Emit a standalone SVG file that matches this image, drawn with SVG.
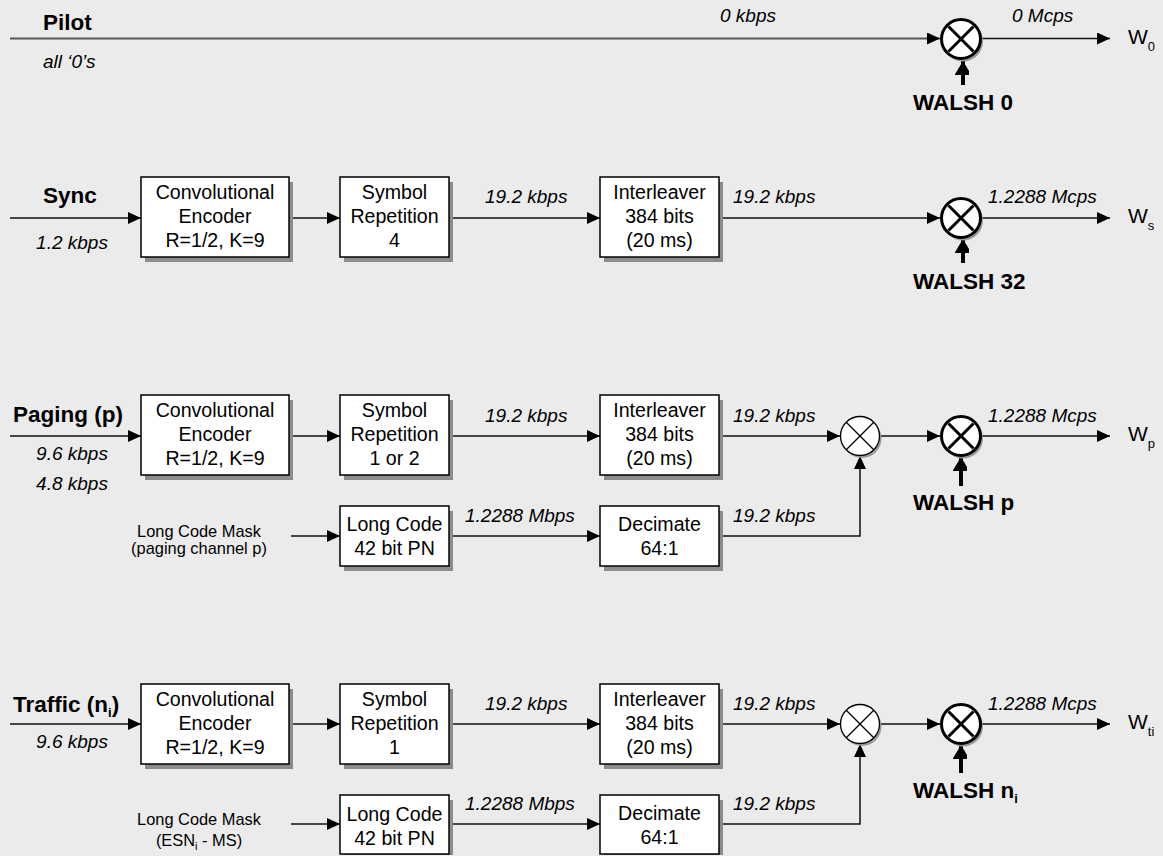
<svg xmlns="http://www.w3.org/2000/svg" width="1163" height="856" viewBox="0 0 1163 856">
<style>
  text { font-family: "Liberation Sans", Arial, sans-serif; fill: #000; }
  .lbl { font-size: 22.5px; font-weight: bold; }
  .rate { font-size: 19px; font-style: italic; }
  .bt { font-size: 19.6px; text-anchor: middle; }
  .mask { font-size: 16.4px; text-anchor: middle; }
  .w { font-size: 21px; }
  .sub { font-size: 13px; }
  .box { fill: #fff; stroke: #000; stroke-width: 1.5; }
  .shd { fill: #8c8c8c; }
  .ln { fill: none; stroke: #111; stroke-width: 1.5; }
  .bigc { fill: #fff; stroke: #000; stroke-width: 3; }
  .bigx { stroke: #000; stroke-width: 3; }
  .smc { fill: #fff; stroke: #000; stroke-width: 1.3; }
  .smx { stroke: #000; stroke-width: 1.2; }
  .csh { fill: #9a9a9a; }
  .walsh { stroke: #000; stroke-width: 4; }
</style>
<defs>
  <marker id="ah" markerUnits="userSpaceOnUse" markerWidth="13" markerHeight="12" refX="13" refY="6" orient="auto">
    <path d="M0,0 L13,6 L0,12 z" fill="#000"/>
  </marker>
  <marker id="wh" markerUnits="userSpaceOnUse" markerWidth="17" markerHeight="14" refX="14" refY="8.5" orient="auto">
    <path d="M0,0 L14,8.5 L0,17 z" fill="#000"/>
  </marker>
  <g id="bigmul">
    <circle class="csh" cx="2" cy="2.5" r="20"/>
    <circle class="bigc" cx="0" cy="0" r="19.5"/>
    <line class="bigx" x1="-12.5" y1="-12.5" x2="12.5" y2="12.5"/>
    <line class="bigx" x1="-12.5" y1="12.5" x2="12.5" y2="-12.5"/>
  </g>
  <g id="smmul">
    <circle class="csh" cx="2" cy="2.5" r="19.5"/>
    <circle class="smc" cx="0" cy="0" r="19.5"/>
    <line class="smx" x1="-13.5" y1="-13.5" x2="13.5" y2="13.5"/>
    <line class="smx" x1="-13.5" y1="13.5" x2="13.5" y2="-13.5"/>
  </g>
</defs>
<rect x="0" y="0" width="1163" height="856" fill="#ebebeb"/>

<!-- connectors -->
<g id="connectors">
  <!-- pilot -->
  <line x1="10" y1="38.5" x2="940" y2="38.5" stroke="#555" stroke-width="2" marker-end="url(#ah)"/>
  <line class="ln" x1="982" y1="38.5" x2="1110" y2="38.5" marker-end="url(#ah)"/>
  <line class="walsh" x1="963" y1="85" x2="963" y2="61" marker-end="url(#wh)"/>
  <!-- sync -->
  <line class="ln" x1="10" y1="218" x2="141" y2="218" marker-end="url(#ah)"/>
  <line class="ln" x1="290" y1="218" x2="340" y2="218" marker-end="url(#ah)"/>
  <line class="ln" x1="450" y1="218" x2="600" y2="218" marker-end="url(#ah)"/>
  <line class="ln" x1="720" y1="218" x2="940" y2="218" marker-end="url(#ah)"/>
  <line class="ln" x1="982" y1="218" x2="1110" y2="218" marker-end="url(#ah)"/>
  <line class="walsh" x1="963" y1="263" x2="963" y2="239" marker-end="url(#wh)"/>
  <!-- paging -->
  <line class="ln" x1="10" y1="436" x2="141" y2="436" marker-end="url(#ah)"/>
  <line class="ln" x1="290" y1="436" x2="340" y2="436" marker-end="url(#ah)"/>
  <line class="ln" x1="450" y1="436" x2="600" y2="436" marker-end="url(#ah)"/>
  <line class="ln" x1="720" y1="436" x2="840" y2="436" marker-end="url(#ah)"/>
  <line class="ln" x1="880" y1="436" x2="940" y2="436" marker-end="url(#ah)"/>
  <line class="ln" x1="982" y1="436" x2="1110" y2="436" marker-end="url(#ah)"/>
  <line class="ln" x1="291" y1="536" x2="340" y2="536" marker-end="url(#ah)"/>
  <line class="ln" x1="450" y1="536" x2="600" y2="536" marker-end="url(#ah)"/>
  <path class="ln" d="M720,536 H860 V456" marker-end="url(#ah)"/>
  <line class="walsh" x1="961" y1="486" x2="961" y2="457" marker-end="url(#wh)"/>
  <!-- traffic -->
  <line class="ln" x1="10" y1="724" x2="141" y2="724" marker-end="url(#ah)"/>
  <line class="ln" x1="290" y1="724" x2="340" y2="724" marker-end="url(#ah)"/>
  <line class="ln" x1="450" y1="724" x2="600" y2="724" marker-end="url(#ah)"/>
  <line class="ln" x1="720" y1="724" x2="840" y2="724" marker-end="url(#ah)"/>
  <line class="ln" x1="880" y1="724" x2="940" y2="724" marker-end="url(#ah)"/>
  <line class="ln" x1="982" y1="724" x2="1110" y2="724" marker-end="url(#ah)"/>
  <line class="ln" x1="291" y1="824" x2="340" y2="824" marker-end="url(#ah)"/>
  <line class="ln" x1="450" y1="824" x2="600" y2="824" marker-end="url(#ah)"/>
  <path class="ln" d="M720,824 H860 V744" marker-end="url(#ah)"/>
  <line class="walsh" x1="961" y1="773" x2="961" y2="745" marker-end="url(#wh)"/>
</g>

<!-- Pilot row -->
<g id="pilot-label">
  <text class="lbl" x="43" y="30">Pilot</text>
  <text class="rate" x="43" y="68">all ‘0’s</text>
  <text class="rate" x="720" y="22">0 kbps</text>
  <text class="rate" x="1012" y="22">0 Mcps</text>
</g>
<g id="pilot-mul"><use href="#bigmul" x="961" y="39"/></g>
<g id="pilot-walsh"><text class="lbl" x="913" y="110">WALSH 0</text></g>
<g id="pilot-out"><text class="w" x="1128" y="44">W<tspan class="sub" dy="7">0</tspan></text></g>

<!-- Sync row -->
<g id="sync-label">
  <text class="lbl" x="43" y="203">Sync</text>
  <text class="rate" x="72" y="249" text-anchor="middle">1.2 kbps</text>
  <text class="rate" x="485" y="203">19.2 kbps</text>
  <text class="rate" x="733" y="203">19.2 kbps</text>
  <text class="rate" x="988" y="203">1.2288 Mcps</text>
</g>
<g id="sync-conv">
  <rect class="shd" x="145" y="182" width="148" height="80"/>
  <rect class="box" x="141" y="177" width="148" height="80"/>
  <text class="bt" x="215" y="199">Convolutional</text>
  <text class="bt" x="215" y="223">Encoder</text>
  <text class="bt" x="215" y="247">R=1/2, K=9</text>
</g>
<g id="sync-rep">
  <rect class="shd" x="344" y="182" width="109" height="80"/>
  <rect class="box" x="340" y="177" width="109" height="80"/>
  <text class="bt" x="394.5" y="199">Symbol</text>
  <text class="bt" x="394.5" y="223">Repetition</text>
  <text class="bt" x="394.5" y="247">4</text>
</g>
<g id="sync-int">
  <rect class="shd" x="604" y="182" width="119" height="80"/>
  <rect class="box" x="600" y="177" width="119" height="80"/>
  <text class="bt" x="659.5" y="199">Interleaver</text>
  <text class="bt" x="659.5" y="223">384 bits</text>
  <text class="bt" x="659.5" y="247">(20 ms)</text>
</g>
<g id="sync-mul"><use href="#bigmul" x="961" y="218"/></g>
<g id="sync-walsh"><text class="lbl" x="913" y="289">WALSH 32</text></g>
<g id="sync-out"><text class="w" x="1128" y="223">W<tspan class="sub" dy="7">s</tspan></text></g>

<!-- Paging row -->
<g id="paging-label">
  <text class="lbl" x="13" y="422">Paging (p)</text>
  <text class="rate" x="72" y="460" text-anchor="middle">9.6 kbps</text>
  <text class="rate" x="72" y="490" text-anchor="middle">4.8 kbps</text>
  <text class="rate" x="485" y="422">19.2 kbps</text>
  <text class="rate" x="733" y="422">19.2 kbps</text>
  <text class="rate" x="988" y="422">1.2288 Mcps</text>
  <text class="rate" x="465" y="522">1.2288 Mbps</text>
  <text class="rate" x="733" y="522">19.2 kbps</text>
</g>
<g id="paging-mask">
  <text class="mask" x="199" y="537">Long Code Mask</text>
  <text class="mask" x="199" y="554">(paging channel p)</text>
</g>
<g id="paging-conv">
  <rect class="shd" x="145" y="400" width="148" height="80"/>
  <rect class="box" x="141" y="395" width="148" height="80"/>
  <text class="bt" x="215" y="417">Convolutional</text>
  <text class="bt" x="215" y="441">Encoder</text>
  <text class="bt" x="215" y="465">R=1/2, K=9</text>
</g>
<g id="paging-rep">
  <rect class="shd" x="344" y="400" width="109" height="80"/>
  <rect class="box" x="340" y="395" width="109" height="80"/>
  <text class="bt" x="394.5" y="417">Symbol</text>
  <text class="bt" x="394.5" y="441">Repetition</text>
  <text class="bt" x="394.5" y="465">1 or 2</text>
</g>
<g id="paging-int">
  <rect class="shd" x="604" y="400" width="119" height="80"/>
  <rect class="box" x="600" y="395" width="119" height="80"/>
  <text class="bt" x="659.5" y="417">Interleaver</text>
  <text class="bt" x="659.5" y="441">384 bits</text>
  <text class="bt" x="659.5" y="465">(20 ms)</text>
</g>
<g id="paging-lc">
  <rect class="shd" x="344" y="511" width="109" height="60"/>
  <rect class="box" x="340" y="506" width="109" height="60"/>
  <text class="bt" x="394.5" y="531">Long Code</text>
  <text class="bt" x="394.5" y="555">42 bit PN</text>
</g>
<g id="paging-dec">
  <rect class="shd" x="604" y="511" width="119" height="60"/>
  <rect class="box" x="600" y="506" width="119" height="60"/>
  <text class="bt" x="659.5" y="531">Decimate</text>
  <text class="bt" x="659.5" y="555">64:1</text>
</g>
<g id="paging-smul"><use href="#smmul" x="860" y="436"/></g>
<g id="paging-mul"><use href="#bigmul" x="961" y="436"/></g>
<g id="paging-walsh"><text class="lbl" x="913" y="510">WALSH p</text></g>
<g id="paging-out"><text class="w" x="1128" y="441">W<tspan class="sub" dy="7">p</tspan></text></g>

<!-- Traffic row -->
<g id="traffic-label">
  <text class="lbl" x="13" y="712">Traffic (n<tspan class="sub" dy="5">i</tspan><tspan dy="-5">)</tspan></text>
  <text class="rate" x="72" y="748" text-anchor="middle">9.6 kbps</text>
  <text class="rate" x="485" y="710">19.2 kbps</text>
  <text class="rate" x="733" y="710">19.2 kbps</text>
  <text class="rate" x="988" y="710">1.2288 Mcps</text>
  <text class="rate" x="465" y="810">1.2288 Mbps</text>
  <text class="rate" x="733" y="810">19.2 kbps</text>
</g>
<g id="traffic-mask">
  <text class="mask" x="199" y="825">Long Code Mask</text>
  <text class="mask" x="199" y="846">(ESN<tspan font-size="11" dy="4">i</tspan><tspan dy="-4"> - MS)</tspan></text>
</g>
<g id="traffic-conv">
  <rect class="shd" x="145" y="689" width="148" height="80"/>
  <rect class="box" x="141" y="684" width="148" height="80"/>
  <text class="bt" x="215" y="706">Convolutional</text>
  <text class="bt" x="215" y="730">Encoder</text>
  <text class="bt" x="215" y="754">R=1/2, K=9</text>
</g>
<g id="traffic-rep">
  <rect class="shd" x="344" y="689" width="109" height="80"/>
  <rect class="box" x="340" y="684" width="109" height="80"/>
  <text class="bt" x="394.5" y="706">Symbol</text>
  <text class="bt" x="394.5" y="730">Repetition</text>
  <text class="bt" x="394.5" y="754">1</text>
</g>
<g id="traffic-int">
  <rect class="shd" x="604" y="689" width="119" height="80"/>
  <rect class="box" x="600" y="684" width="119" height="80"/>
  <text class="bt" x="659.5" y="706">Interleaver</text>
  <text class="bt" x="659.5" y="730">384 bits</text>
  <text class="bt" x="659.5" y="754">(20 ms)</text>
</g>
<g id="traffic-lc">
  <rect class="shd" x="344" y="800" width="109" height="55"/>
  <rect class="box" x="340" y="795" width="109" height="59"/>
  <text class="bt" x="394.5" y="821">Long Code</text>
  <text class="bt" x="394.5" y="845">42 bit PN</text>
</g>
<g id="traffic-dec">
  <rect class="shd" x="604" y="800" width="119" height="55"/>
  <rect class="box" x="600" y="795" width="119" height="59"/>
  <text class="bt" x="659.5" y="820">Decimate</text>
  <text class="bt" x="659.5" y="844">64:1</text>
</g>
<g id="traffic-smul"><use href="#smmul" x="860" y="724"/></g>
<g id="traffic-mul"><use href="#bigmul" x="961" y="724"/></g>
<g id="traffic-walsh"><text class="lbl" x="913" y="798">WALSH n<tspan class="sub" dy="5">i</tspan></text></g>
<g id="traffic-out"><text class="w" x="1128" y="729">W<tspan class="sub" dy="7">ti</tspan></text></g>
</svg>
